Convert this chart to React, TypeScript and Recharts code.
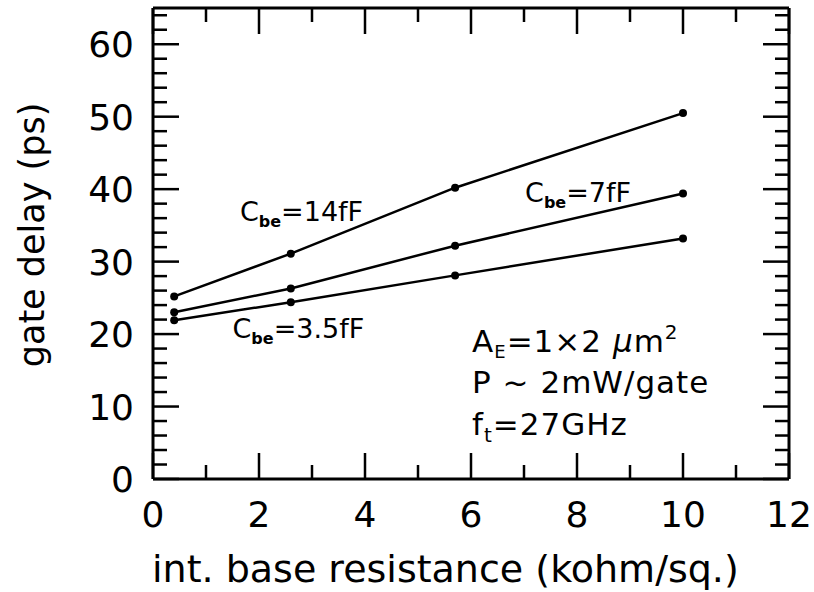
import React from 'react';
import { LineChart, Line, XAxis, YAxis, ReferenceDot } from 'recharts';

const resistance = [0.4, 2.6, 5.7, 10];
const delay14fF = [25.2, 31.1, 40.2, 50.5];
const delay7fF = [23.0, 26.3, 32.2, 39.4];
const delay3p5fF = [21.9, 24.4, 28.1, 33.2];

const xTicks = [0, 1, 2, 3, 4, 5, 6, 7, 8, 9, 10, 11, 12];
const xMajorStep = 2;
const yTicks = [0, 2, 4, 6, 8, 10, 12, 14, 16, 18, 20, 22, 24, 26, 28, 30, 32, 34, 36, 38, 40, 42, 44, 46, 48, 50, 52, 54, 56, 58, 60, 62, 64];
const yMajorStep = 10;

const xTitle = 'int. base resistance (kohm/sq.)';
const yTitle = 'gate delay (ps)';

const data = resistance.map((r, i) => ({
  r,
  c14: delay14fF[i],
  c7: delay7fF[i],
  c35: delay3p5fF[i],
}));

const CHART_W = 814;
const CHART_H = 592;
const MARGIN = { top: 7, right: 24, bottom: 0, left: 0 };
const LEFT_W = 153;
const RIGHT_W = 1;
const PLOT_W = CHART_W - MARGIN.left - MARGIN.right - LEFT_W - RIGHT_W;

const FONT = '"DejaVu Sans", sans-serif';
const MAJOR = 26;
const MINOR = 14;
const TICK_W = 2.5;
const TC = '#000';

const isMajor = (v: any, step: number) => {
  const n = Number(v);
  return Math.abs(n / step - Math.round(n / step)) < 1e-9;
};

const BottomTick = (props: any) => {
  const { x, y, payload } = props;
  const major = isMajor(payload.value, xMajorStep);
  return (
    <g>
      <line x1={x} x2={x} y1={y} y2={y - (major ? MAJOR : MINOR)} stroke={TC} strokeWidth={TICK_W} />
      {major && (
        <text x={x} y={y + 48} textAnchor="middle" fontFamily={FONT} fontSize={36} fill="#000">
          {payload.value}
        </text>
      )}
    </g>
  );
};

const TopTick = (props: any) => {
  const { x, y, payload } = props;
  const major = isMajor(payload.value, xMajorStep);
  return <line x1={x} x2={x} y1={y} y2={y + (major ? MAJOR : MINOR)} stroke={TC} strokeWidth={TICK_W} />;
};

const LeftTick = (props: any) => {
  const { x, y, payload } = props;
  const major = isMajor(payload.value, yMajorStep);
  const len = major ? MAJOR : MINOR;
  const xr = x + PLOT_W;
  return (
    <g>
      <line x1={x} x2={x + len} y1={y} y2={y} stroke={TC} strokeWidth={TICK_W} />
      <line x1={xr} x2={xr - len} y1={y} y2={y} stroke={TC} strokeWidth={TICK_W} />
      {major && (
        <text x={x - 19} y={y + 13} textAnchor="end" fontFamily={FONT} fontSize={36} fill="#000">
          {payload.value}
        </text>
      )}
    </g>
  );
};

const CbeLabel = (value: string) => (props: any) => {
  const { viewBox } = props;
  return (
    <text x={viewBox.x} y={viewBox.y} fontFamily={FONT} fontSize={27} fill="#000">
      C
      <tspan fontSize={16} fontWeight="bold" dy={6}>be</tspan>
      <tspan dy={-6}>{value}</tspan>
    </text>
  );
};

const AnnoText = (kind: string) => (props: any) => {
  const { viewBox } = props;
  const common = { x: viewBox.x, y: viewBox.y, fontFamily: FONT, fontSize: 31, fill: '#000', letterSpacing: 1 };
  if (kind === 'area') {
    return (
      <text {...common}>
        A
        <tspan fontSize={18} dy={6}>E</tspan>
        <tspan dy={-6}>=1×2 </tspan>
        <tspan fontStyle="italic">μ</tspan>
        <tspan>m</tspan>
        <tspan fontSize={20} dy={-13}>2</tspan>
      </text>
    );
  }
  if (kind === 'power') {
    return <text {...common}>P ~ 2mW/gate</text>;
  }
  return (
    <text {...common}>
      f
      <tspan fontSize={20} dy={7}>t</tspan>
      <tspan dy={-7}>=27GHz</tspan>
    </text>
  );
};

const axisLineStyle = { stroke: '#000', strokeWidth: 3 };
const dotStyle = { r: 4, fill: '#000', stroke: '#000', strokeWidth: 0 };

export default function App() {
  return (
    <div style={{ position: 'absolute', left: 0, top: 0, background: '#fff' }}>
      <LineChart width={CHART_W} height={CHART_H} data={data} margin={MARGIN}>
        <XAxis
          dataKey="r"
          type="number"
          domain={[0, 12]}
          ticks={xTicks}
          interval={0}
          height={113}
          tickSize={0}
          tickMargin={0}
          tickLine={false}
          tick={<BottomTick />}
          axisLine={axisLineStyle}
          label={{
            content: (p: any) => (
              <text x={p.viewBox.x - 1} y={p.viewBox.y + 103} fontFamily={FONT} fontSize={38} fill="#000">
                {xTitle}
              </text>
            ),
          }}
        />
        <XAxis
          xAxisId="top"
          orientation="top"
          dataKey="r"
          type="number"
          domain={[0, 12]}
          ticks={xTicks}
          interval={0}
          height={1}
          tickSize={0}
          tickMargin={0}
          tickLine={false}
          tick={<TopTick />}
          axisLine={axisLineStyle}
        />
        <YAxis
          type="number"
          domain={[0, 65]}
          ticks={yTicks}
          interval={0}
          width={LEFT_W}
          tickSize={0}
          tickMargin={0}
          tickLine={false}
          tick={<LeftTick />}
          axisLine={axisLineStyle}
          label={{
            content: (p: any) => {
              const cx = 44;
              const cy = p.viewBox.y + 227;
              return (
                <text x={cx} y={cy} textAnchor="middle" transform={`rotate(-90, ${cx}, ${cy})`} fontFamily={FONT} fontSize={35} fill="#000">
                  {yTitle}
                </text>
              );
            },
          }}
        />
        <YAxis
          yAxisId="right"
          orientation="right"
          dataKey="c14"
          type="number"
          domain={[0, 65]}
          width={RIGHT_W}
          tick={false}
          tickLine={false}
          axisLine={axisLineStyle}
        />
        <Line dataKey="c14" stroke="#000" strokeWidth={2.5} dot={dotStyle} isAnimationActive={false} />
        <Line dataKey="c7" stroke="#000" strokeWidth={2.5} dot={dotStyle} isAnimationActive={false} />
        <Line dataKey="c35" stroke="#000" strokeWidth={2.5} dot={dotStyle} isAnimationActive={false} />
        <ReferenceDot x={1.64} y={35.6} r={0} ifOverflow="visible" label={{ content: CbeLabel('=14fF') }} />
        <ReferenceDot x={7.02} y={38.2} r={0} ifOverflow="visible" label={{ content: CbeLabel('=7fF') }} />
        <ReferenceDot x={1.5} y={19.5} r={0} ifOverflow="visible" label={{ content: CbeLabel('=3.5fF') }} />
        <ReferenceDot x={6.02} y={17.5} r={0} ifOverflow="visible" label={{ content: AnnoText('area') }} />
        <ReferenceDot x={6.02} y={11.9} r={0} ifOverflow="visible" label={{ content: AnnoText('power') }} />
        <ReferenceDot x={6.02} y={6.1} r={0} ifOverflow="visible" label={{ content: AnnoText('freq') }} />
      </LineChart>
    </div>
  );
}
